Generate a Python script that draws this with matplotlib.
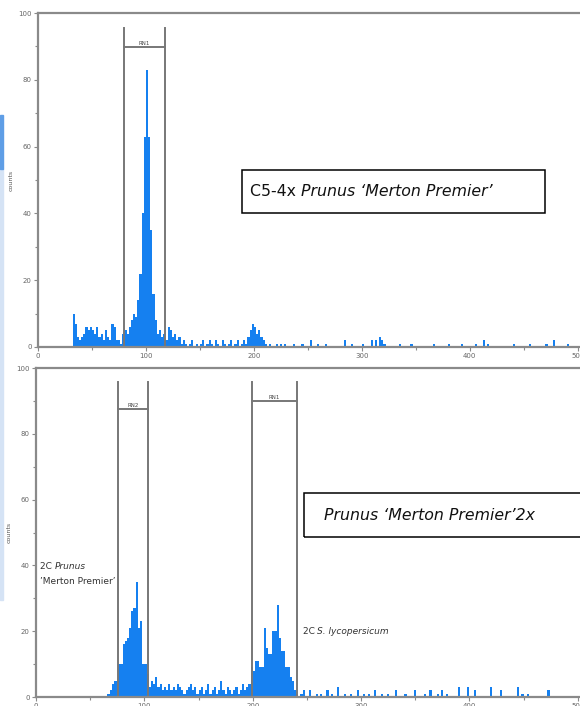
import numpy as np
import matplotlib.pyplot as plt
from matplotlib.patches import Rectangle

# top histogram: C5-4x Prunus 'Merton Premier' (2-unit channel bins starting at 30)
top_start = 30
top_counts = [0, 10, 7, 3, 2, 3, 4, 6, 5, 6, 5, 4, 6, 3, 4, 2, 5, 3, 2, 7,
              6, 2, 2, 1, 4, 5, 4, 6, 8, 10, 9, 14, 22, 40, 63, 83, 63, 35, 16, 8,
              4, 5, 3, 4, 2, 6, 5, 3, 4, 2, 3, 1, 2, 1, 0, 1, 2, 0, 1, 0,
              1, 2, 0, 1, 2, 1, 0, 2, 1, 0, 2, 1, 0, 1, 2, 0, 1, 2, 0, 1,
              2, 1, 3, 5, 7, 6, 4, 5, 3, 2, 1, 0, 1, 0, 0, 1, 0, 1, 0, 1]
top_tail_x = [236, 244, 252, 258, 266, 283, 290, 300, 308, 312, 316, 318, 320,
              334, 345, 366, 380, 392, 405, 412, 416, 440, 455, 470, 477, 490]
top_tail_y = [1, 1, 2, 1, 1, 2, 1, 1, 2, 2, 3, 2, 1, 1, 1, 1, 1, 1, 1, 2, 1, 1, 1, 1, 2, 1]

# bottom histogram: Prunus 'Merton Premier' 2x with S. lycopersicum standard
bot_start = 60
bot_counts = [0, 0, 0, 1, 2, 4, 5, 5, 10, 10, 16, 17, 18, 21, 26, 27, 35, 21, 23, 10,
              10, 7, 3, 5, 4, 6, 3, 4, 2, 3, 2, 4, 2, 3, 2, 4, 3, 2, 1, 2,
              3, 4, 2, 3, 1, 2, 3, 1, 2, 4, 1, 2, 3, 1, 2, 5, 2, 1, 3, 2,
              1, 2, 3, 1, 2, 4, 2, 3, 4, 9, 8, 11, 11, 9, 9, 21, 15, 13, 13, 20,
              20, 28, 18, 14, 14, 9, 9, 6, 5, 2, 1, 0, 1, 2, 0]
bot_tail_x = [252, 258, 262, 268, 272, 278, 284, 290, 296, 302, 306, 312, 318, 324,
              331, 340, 349, 358, 363, 370, 374, 378, 389, 398, 404, 419, 428, 444,
              448, 453, 472]
bot_tail_y = [2, 1, 1, 2, 1, 3, 1, 1, 2, 1, 1, 2, 1, 1, 2, 1, 2, 1, 2, 1, 2, 1, 3, 3,
              2, 3, 2, 3, 1, 1, 2]

# gates: (name, left, right, top, bar height)
top_gates = [("RN1", 79.5, 117.5, 95.5, 89.8)]
bot_gates = [("RN2", 76, 103.7, 95.7, 87.5), ("RN1", 199, 240.5, 95.7, 90.0)]

bin_w = 2
bar_color = "#1580f0"
axis_gray = "#8a8a8a"

fig = plt.figure(figsize=(5.8, 7.06), dpi=100)
ax_top = fig.add_axes([0.0655, 0.5085, 0.9345, 0.473])
ax_bot = fig.add_axes([0.062, 0.0127, 0.938, 0.466])


def style_axes(ax):
    ax.set_xlim(0, 502)
    ax.set_ylim(0, 100)
    for s in ["left", "bottom", "top"]:
        ax.spines[s].set_color(axis_gray)
        ax.spines[s].set_linewidth(1.6)
    ax.spines["right"].set_visible(False)
    ax.set_xticks(np.arange(0, 501, 100))
    ax.set_xticks(np.arange(50, 501, 100), minor=True)
    ax.set_yticks(np.arange(0, 101, 20))
    ax.set_yticks(np.arange(10, 100, 20), minor=True)
    ax.tick_params(which="both", colors=axis_gray, labelcolor="#666666",
                   labelsize=5, length=3, width=0.8, pad=1.5)
    ax.tick_params(which="minor", length=2)
    ax.set_ylabel("counts", fontsize=4.5, color="#555555", labelpad=3)


def draw_hist(ax, start, counts, tail_x, tail_y):
    xs = start + bin_w * np.arange(len(counts))
    ax.bar(xs, counts, width=bin_w, align="edge", color=bar_color, linewidth=0)
    ax.bar(tail_x, tail_y, width=bin_w, align="edge", color=bar_color, linewidth=0)


def draw_gates(ax, gates):
    for name, x0, x1, ytop, ybar in gates:
        ax.plot([x0, x0], [0, ytop], color="#777777", lw=1.4)
        ax.plot([x1, x1], [0, ytop], color="#777777", lw=1.4)
        ax.plot([x0, x1], [ybar, ybar], color="#777777", lw=1.4)
        ax.text((x0 + x1) / 2, ybar + 0.4, name, fontsize=4, color="#444444",
                ha="center", va="bottom")


for ax in (ax_top, ax_bot):
    style_axes(ax)

draw_hist(ax_top, top_start, top_counts, top_tail_x, top_tail_y)
draw_hist(ax_bot, bot_start, bot_counts, bot_tail_x, bot_tail_y)
draw_gates(ax_top, top_gates)
draw_gates(ax_bot, bot_gates)

# label boxes
ax_top.add_patch(Rectangle((189, 40.1), 280.5, 12.9, fill=False, edgecolor="black", lw=1.1))
t1 = ax_top.text(196, 46.6, "C5-4x ", fontsize=11.3, va="center", color="#111111")
ax_top.annotate("Prunus \u2018Merton Premier\u2019", xy=(1, 0), xycoords=t1,
                va="bottom", fontsize=11.3, style="italic", color="#111111")

ax_bot.add_patch(Rectangle((247, 48.6), 270, 13.4, fill=False, edgecolor="black",
                           lw=1.1, clip_on=False))
ax_bot.text(265.5, 55.3, "Prunus \u2018Merton Premier\u20192x", fontsize=11.3,
            va="center", style="italic", color="#111111")

# peak annotations
a1 = ax_bot.text(3.5, 41.0, "2C ", fontsize=6.5, va="top", color="#333333")
ax_bot.annotate("Prunus", xy=(1, 0), xycoords=a1, va="bottom", fontsize=6.5,
                style="italic", color="#333333")
ax_bot.text(3.5, 36.5, "\u2019Merton Premier\u2019", fontsize=6.5, va="top", color="#333333")
a2 = ax_bot.text(246, 19.8, "2C ", fontsize=6.5, va="center", color="#333333")
ax_bot.annotate("S. lycopersicum", xy=(1, 0), xycoords=a2, va="bottom", fontsize=6.5,
                style="italic", color="#333333")

# thin blue strip at the left edge of the screenshot
fig.patches.append(Rectangle((0, 0.15), 0.005, 0.61, transform=fig.transFigure,
                             color="#d5e3f5", zorder=0))
fig.patches.append(Rectangle((0, 0.76), 0.005, 0.077, transform=fig.transFigure,
                             color="#5f9ee6", zorder=0))

fig.savefig("out.png", dpi=100)
